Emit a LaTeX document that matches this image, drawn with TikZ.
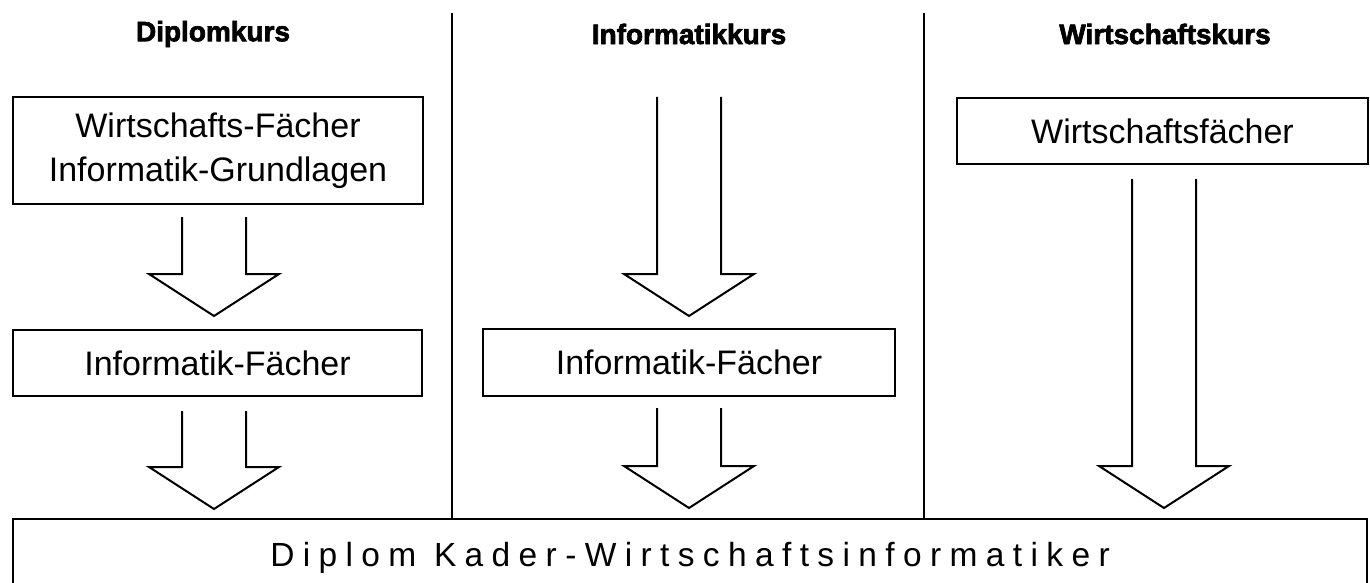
\documentclass[tikz,border=0pt]{standalone}
\usepackage{fontspec}
\setmainfont{Liberation Sans}
\newfontfamily\kursfont[FakeBold=2.5]{Liberation Sans Bold}
\newfontfamily\sperrfont[LetterSpace=25]{Liberation Sans}
\usetikzlibrary{calc}
\tikzset{
  fach/.style={draw, line width=2pt, inner sep=0pt, align=center, font=\fontsize{34}{44}\selectfont},
  kurs/.style={font=\kursfont\fontsize{28}{32}\selectfont},
  pfeil/.style={line width=2pt, line join=miter},
}
\newcommand{\blockpfeil}[2]{%
\draw[pfeil] ($(#1)+(-32,0)$) |- ($(#2)+(-65,-42)$) -- (#2) -- ($(#2)+(65,-42)$) -| ($(#1)+(32,0)$);}
\begin{document}
\begin{tikzpicture}[x=1pt,y=-1pt]
\useasboundingbox (0,0) rectangle (1370,583);
\clip (0,0) rectangle (1370,583);
% Kurse
\node[kurs] (diplom) at (213,34) {Diplomkurs};
\node[kurs] (informatik) at (689,34) {Informatikkurs};
\node[kurs] (wirtschaft) at (1165,34) {Wirtschaftskurs};
% Faecher
\node[fach, minimum width=410, minimum height=107] (dip1) at (218,150.5) {Wirtschafts-Fächer\\Informatik-Grundlagen};
\node[fach, minimum width=409, minimum height=66] (dip2) at (217.5,363) {Informatik-Fächer};
\node[fach, minimum width=412, minimum height=67] (inf1) at (689,362.5) {Informatik-Fächer};
\node[fach, minimum width=411, minimum height=66] (wir1) at (1162.5,131) {Wirtschaftsfächer};
\node[draw, line width=2pt, inner sep=0pt, minimum width=1354, minimum height=78] (abschluss) at (690,558)
  {\sperrfont\fontsize{33.5}{40}\selectfont Diplom Kader-Wirtschaftsinformatiker};
% Trennlinien
\coordinate (t1) at (452,13);
\coordinate (t2) at (924,13);
\draw[line width=2pt] (t1) -- (t1 |- abschluss.north);
\draw[line width=2pt] (t2) -- (t2 |- abschluss.north);
% Pfeile
\coordinate (a1top) at (214,217);
\coordinate (a1tip) at (214,316);
\coordinate (a2top) at (214,411);
\coordinate (a2tip) at (214,509);
\coordinate (m1top) at (689,97);
\coordinate (m1tip) at (689,316);
\coordinate (m2top) at (689,408);
\coordinate (m2tip) at (689,508);
\coordinate (w1top) at (1164,179);
\coordinate (w1tip) at (1164,508);
\blockpfeil{a1top}{a1tip}
\blockpfeil{a2top}{a2tip}
\blockpfeil{m1top}{m1tip}
\blockpfeil{m2top}{m2tip}
\blockpfeil{w1top}{w1tip}
\end{tikzpicture}
\end{document}
